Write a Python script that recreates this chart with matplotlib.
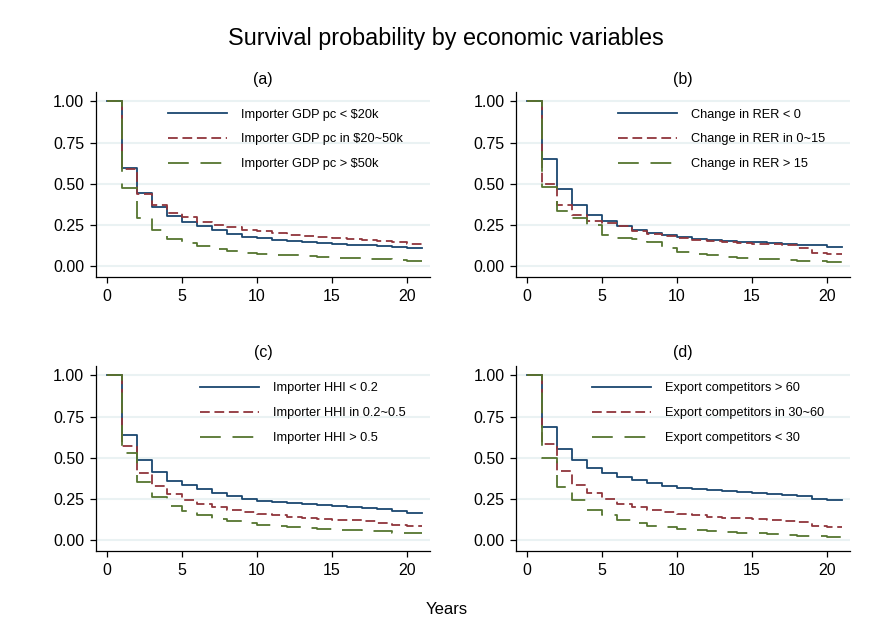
import numpy as np
import matplotlib
matplotlib.use("Agg")
import matplotlib.pyplot as plt

plt.rcParams['font.family'] = ['Liberation Sans', 'DejaVu Sans']

# survival estimates at the start of each year interval (t = 0..20)
years = np.arange(0, 22)

gdp_low = [1.0, 0.597, 0.443, 0.358, 0.304, 0.269, 0.241, 0.217, 0.196, 0.180, 0.170,
           0.160, 0.152, 0.144, 0.140, 0.136, 0.130, 0.126, 0.121, 0.115, 0.111]
gdp_mid = [1.0, 0.593, 0.439, 0.370, 0.324, 0.298, 0.269, 0.249, 0.235, 0.221, 0.211,
           0.200, 0.190, 0.182, 0.178, 0.172, 0.166, 0.160, 0.154, 0.148, 0.136]
gdp_high = [1.0, 0.476, 0.294, 0.217, 0.166, 0.138, 0.121, 0.103, 0.093, 0.083, 0.075,
            0.069, 0.065, 0.059, 0.055, 0.051, 0.047, 0.045, 0.043, 0.038, 0.034]

rer_neg = [1.0, 0.652, 0.470, 0.372, 0.308, 0.275, 0.247, 0.219, 0.200, 0.188, 0.176,
           0.168, 0.160, 0.154, 0.148, 0.144, 0.140, 0.134, 0.130, 0.126, 0.119]
rer_mid = [1.0, 0.496, 0.372, 0.308, 0.273, 0.261, 0.241, 0.211, 0.194, 0.182, 0.172,
           0.162, 0.154, 0.148, 0.142, 0.136, 0.132, 0.126, 0.111, 0.079, 0.077]
rer_high = [1.0, 0.482, 0.338, 0.291, 0.249, 0.190, 0.170, 0.164, 0.146, 0.113, 0.087,
            0.077, 0.069, 0.055, 0.051, 0.045, 0.045, 0.040, 0.034, 0.032, 0.028]

hhi_low = [1.0, 0.636, 0.484, 0.413, 0.360, 0.332, 0.308, 0.287, 0.267, 0.251, 0.239,
           0.231, 0.223, 0.217, 0.211, 0.206, 0.200, 0.196, 0.190, 0.176, 0.166]
hhi_mid = [1.0, 0.569, 0.407, 0.326, 0.279, 0.243, 0.219, 0.198, 0.184, 0.172, 0.158,
           0.150, 0.142, 0.134, 0.128, 0.123, 0.119, 0.113, 0.105, 0.091, 0.085]
hhi_high = [1.0, 0.530, 0.352, 0.261, 0.206, 0.176, 0.150, 0.128, 0.115, 0.101, 0.091,
            0.083, 0.077, 0.071, 0.067, 0.063, 0.059, 0.055, 0.053, 0.045, 0.040]

comp_high = [1.0, 0.688, 0.553, 0.484, 0.437, 0.407, 0.383, 0.366, 0.344, 0.330, 0.318,
             0.310, 0.302, 0.296, 0.290, 0.283, 0.277, 0.271, 0.265, 0.251, 0.243]
comp_mid = [1.0, 0.583, 0.419, 0.336, 0.287, 0.251, 0.221, 0.200, 0.184, 0.170, 0.160,
            0.150, 0.142, 0.136, 0.132, 0.126, 0.121, 0.117, 0.107, 0.085, 0.079]
comp_low = [1.0, 0.500, 0.320, 0.241, 0.184, 0.150, 0.121, 0.101, 0.087, 0.077, 0.067,
            0.059, 0.055, 0.049, 0.045, 0.040, 0.036, 0.032, 0.026, 0.022, 0.020]

panels = [
    ("(a)", [gdp_low, gdp_mid, gdp_high],
     ["Importer GDP pc < $20k", "Importer GDP pc in $20~50k", "Importer GDP pc > $50k"]),
    ("(b)", [rer_neg, rer_mid, rer_high],
     ["Change in RER < 0", "Change in RER in 0~15", "Change in RER > 15"]),
    ("(c)", [hhi_low, hhi_mid, hhi_high],
     ["Importer HHI < 0.2", "Importer HHI in 0.2~0.5", "Importer HHI > 0.5"]),
    ("(d)", [comp_high, comp_mid, comp_low],
     ["Export competitors > 60", "Export competitors in 30~60", "Export competitors < 30"]),
]

colors = ["#1a476f", "#90353b", "#55752f"]
styles = ["-", (0, (5.4, 2.6)), (0, (11.5, 6.5))]

# axes boxes [left, bottom, width, height] in figure fractions
boxes = [
    [0.110, 0.563, 0.383, 0.292],
    [0.592, 0.563, 0.383, 0.292],
    [0.110, 0.131, 0.383, 0.292],
    [0.592, 0.131, 0.383, 0.292],
]
# legend anchor (axes fraction where the line samples start)
leg_x = [0.216, 0.305, 0.311, 0.228]

fig = plt.figure(figsize=(8.72, 6.34), dpi=100)

for (title, series, labels), box, lx in zip(panels, boxes, leg_x):
    ax = fig.add_axes(box)
    for s, c, ls, lab in zip(series, colors, styles, labels):
        ax.step(years, s + [s[-1]], where="post", color=c, linestyle=ls,
                linewidth=1.3, label=lab)
    ax.set_xlim(-0.71, 21.55)
    ax.set_ylim(-0.066, 1.058)
    ax.set_xticks([0, 5, 10, 15, 20])
    ax.set_yticks([0, 0.25, 0.5, 0.75, 1.0])
    ax.set_yticklabels(["0.00", "0.25", "0.50", "0.75", "1.00"])
    ax.yaxis.grid(True, color="#eaf2f3", linewidth=1.5)
    ax.set_axisbelow(True)
    for side in ["top", "right"]:
        ax.spines[side].set_visible(False)
    for side in ["left", "bottom"]:
        ax.spines[side].set_linewidth(0.9)
    ax.tick_params(labelsize=11.5, length=4.5, width=0.9, pad=4)
    ax.set_title(title, fontsize=11.5, pad=6)
    ax.legend(loc="upper left", bbox_to_anchor=(lx, 0.91), frameon=False,
              fontsize=9.2, handlelength=4.6, handletextpad=1.1, labelspacing=1.0,
              borderaxespad=0, borderpad=0)

fig.suptitle("Survival probability by economic variables", fontsize=16.8,
             x=0.511, y=0.958)
fig.text(0.512, 0.039, "Years", ha="center", va="center", fontsize=12)

fig.savefig("out.png", dpi=100)
